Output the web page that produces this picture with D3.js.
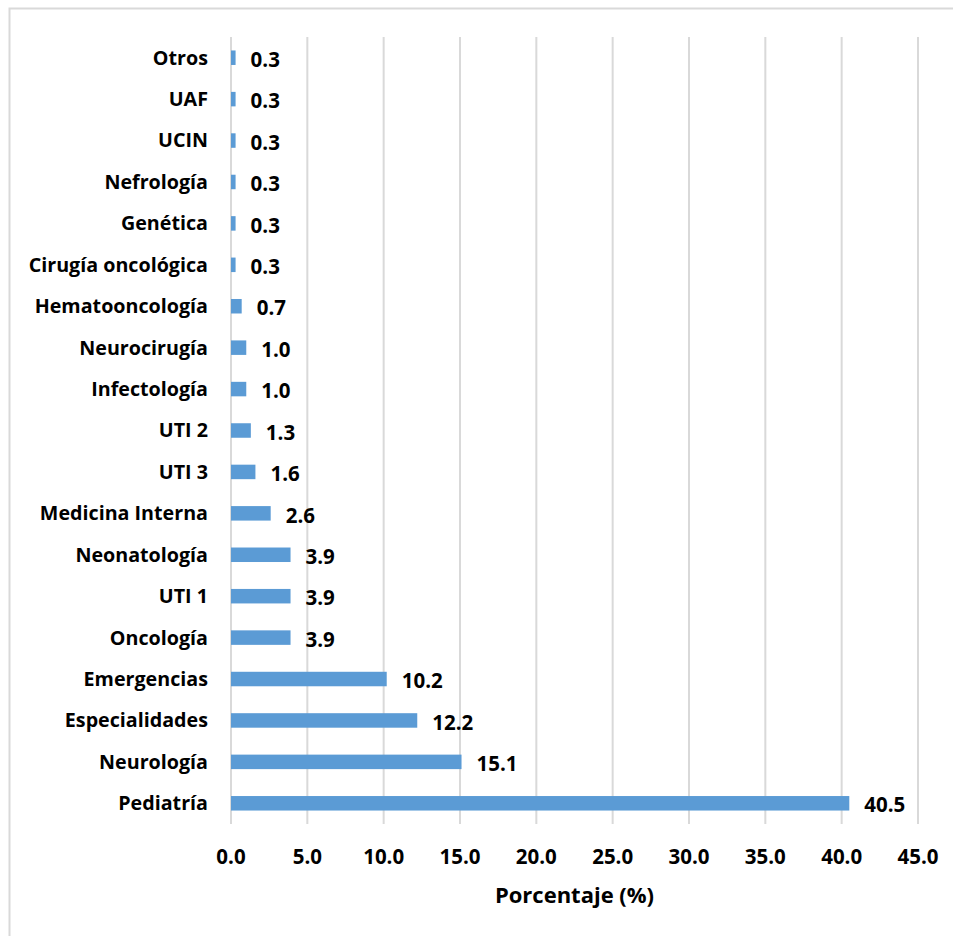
<!DOCTYPE html>
<html>
<head>
<meta charset="utf-8">
<script src="https://cdnjs.cloudflare.com/ajax/libs/d3/7.8.5/d3.min.js"></script>
<style>
	body { margin: 0; background: #fff; }
	text { font-family: "Open Sans", sans-serif; font-weight: bold; fill: #000; }
</style>
</head>
<body>
<div id="chart"></div>
<script>
// categories top to bottom, and their percentages
var categories = ["Otros", "UAF", "UCIN", "Nefrología", "Genética", "Cirugía oncológica",
	"Hematooncología", "Neurocirugía", "Infectología", "UTI 2", "UTI 3", "Medicina Interna",
	"Neonatología", "UTI 1", "Oncología", "Emergencias", "Especialidades", "Neurología", "Pediatría"];
var values = [0.3, 0.3, 0.3, 0.3, 0.3, 0.3, 0.7, 1.0, 1.0, 1.3, 1.6, 2.6, 3.9, 3.9, 3.9, 10.2, 12.2, 15.1, 40.5];
var xTicks = [0, 5, 10, 15, 20, 25, 30, 35, 40, 45];
var xTitle = "Porcentaje (%)";

function init(){
	var width = 953;
	var height = 936;

	var svg = d3.select("#chart").append("svg")
				.attr("width", width)
				.attr("height", height);

	//outer chart border (right and bottom edges fall outside the picture)
	svg.append("rect")
	   .attr("x", 9.5)
	   .attr("y", 8.5)
	   .attr("width", width + 20)
	   .attr("height", height + 20)
	   .attr("fill", "none")
	   .attr("stroke", "#d9d9d9")
	   .attr("stroke-width", 2);

	var x = d3.scaleLinear().domain([0, 45]).range([231, 918]);
	var y = d3.scaleBand().domain(categories).range([37, 824]).paddingInner(0.65).paddingOuter(0.325);

	//vertical gridlines
	svg.selectAll("line.grid").data(xTicks).enter()
	   .append("line")
	   .attr("class", "grid")
	   .attr("x1", d => x(d))
	   .attr("x2", d => x(d))
	   .attr("y1", 37)
	   .attr("y2", 824)
	   .attr("stroke", "#d9d9d9")
	   .attr("stroke-width", 2);

	//bars
	svg.selectAll("rect.bar").data(values).enter()
	   .append("rect")
	   .attr("class", "bar")
	   .attr("x", x(0))
	   .attr("y", (d, i) => y(categories[i]))
	   .attr("width", d => x(d) - x(0))
	   .attr("height", y.bandwidth())
	   .attr("fill", "#5b9bd5");

	//value labels
	svg.selectAll("text.val").data(values).enter()
	   .append("text")
	   .attr("class", "val")
	   .attr("x", d => x(d) + 15)
	   .attr("y", (d, i) => y(categories[i]) + y.bandwidth() / 2 + 2)
	   .attr("dy", "0.35em")
	   .style("font-size", "20.5px")
	   .text(d => d.toFixed(1));

	//category labels
	svg.selectAll("text.cat").data(categories).enter()
	   .append("text")
	   .attr("class", "cat")
	   .attr("x", 208)
	   .attr("y", d => y(d) + y.bandwidth() / 2)
	   .attr("dy", "0.35em")
	   .attr("text-anchor", "end")
	   .style("font-size", "19.7px")
	   .text(d => d);

	//x tick labels
	svg.selectAll("text.tick").data(xTicks).enter()
	   .append("text")
	   .attr("class", "tick")
	   .attr("x", d => x(d))
	   .attr("y", 857)
	   .attr("dy", "0.35em")
	   .attr("text-anchor", "middle")
	   .style("font-size", "20.5px")
	   .text(d => d.toFixed(1));

	svg.append("text")
	   .attr("x", (x(0) + x(45)) / 2)
	   .attr("y", 895.5)
	   .attr("dy", "0.35em")
	   .attr("text-anchor", "middle")
	   .style("font-size", "22px")
	   .text(xTitle);
}

window.onload = init;
</script>
</body>
</html>
